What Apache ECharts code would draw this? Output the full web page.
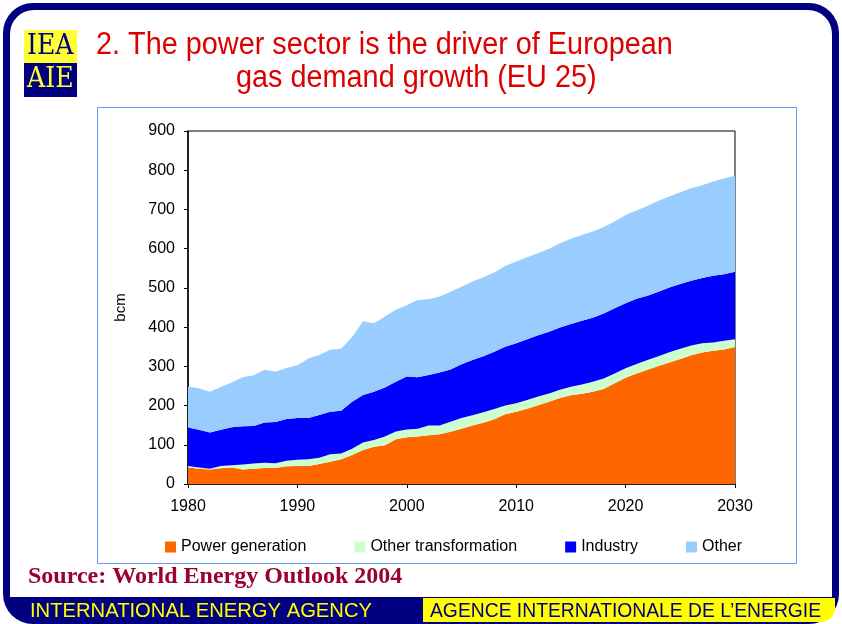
<!DOCTYPE html>
<html>
<head>
<meta charset="utf-8">
<script src="https://cdn.jsdelivr.net/npm/echarts@6/dist/echarts.min.js"></script>
<style>
  html, body { margin: 0; padding: 0; background: #fff; }
  #main { width: 842px; height: 624px; }
</style>
</head>
<body>
<div id="main"></div>
<script>
// EU 25 gas demand by sector, bcm
var years = ['1980', '1981', '1982', '1983', '1984', '1985', '1986', '1987', '1988', '1989',
  '1990', '1991', '1992', '1993', '1994', '1995', '1996', '1997', '1998', '1999',
  '2000', '2001', '2002', '2003', '2004', '2005', '2006', '2007', '2008', '2009',
  '2010', '2011', '2012', '2013', '2014', '2015', '2016', '2017', '2018', '2019',
  '2020', '2021', '2022', '2023', '2024', '2025', '2026', '2027', '2028', '2029', '2030'];
var powerGen = [42, 39, 37, 40, 42, 37, 39, 41, 41, 45,
  46, 46, 51, 57, 63, 74, 87, 95, 99, 114,
  119, 121, 124, 127, 133, 141, 149, 156, 165, 178,
  184, 192, 201, 210, 219, 226, 230, 235, 242, 257,
  271, 282, 291, 301, 310, 319, 328, 335, 340, 343, 349];
var otherTrans = [4, 3, 2, 6, 6, 13, 13, 13, 12, 14,
  16, 17, 16, 19, 15, 16, 19, 17, 22, 20,
  20, 20, 25, 22, 26, 27, 26, 27, 26, 22,
  22, 22, 22, 21, 21, 22, 24, 26, 27, 25,
  24, 24, 25, 25, 26, 26, 25, 24, 21, 22, 20];
var industry = [98, 96, 92, 92, 97, 97, 96, 103, 105, 107,
  106, 105, 109, 108, 109, 120, 121, 123, 125, 127,
  135, 131, 129, 135, 133, 137, 141, 143, 146, 150,
  153, 155, 156, 157, 159, 160, 162, 163, 166, 166,
  166, 166, 164, 164, 165, 165, 165, 166, 170, 170, 172];
var other = [104, 106, 104, 109, 114, 125, 129, 134, 128, 130,
  135, 152, 153, 158, 158, 165, 188, 175, 181, 183,
  182, 197, 193, 194, 198, 198, 200, 201, 202, 206,
  208, 209, 209, 212, 215, 217, 219, 220, 220, 221,
  225, 225, 229, 232, 232, 234, 236, 237, 240, 244, 245];
var seriesNames = ['Power generation', 'Other transformation', 'Industry', 'Other'];
var seriesColors = ['#ff6600', '#ccffcc', '#0000ff', '#99ccff'];

var navy = '#000080';
var sans = '"Liberation Sans", Arial, sans-serif';
var chart = echarts.init(document.getElementById('main'), null, { renderer: 'canvas' });

function areaSeries(name, vals, idx) {
  return {
    name: name,
    type: 'line',
    stack: 'total',
    data: vals,
    symbol: 'none',
    lineStyle: { width: 0 },
    areaStyle: { color: seriesColors[idx], opacity: 1 },
    itemStyle: { color: seriesColors[idx] },
    emphasis: { disabled: true },
    z: 1
  };
}

var option = {
  animation: false,
  backgroundColor: '#fff',
  textStyle: { fontFamily: sans },
  graphic: [
    // slide frame + footer
    { type: 'rect', z: -10, shape: { x: 3, y: 3, width: 836, height: 621, r: 30 }, style: { fill: navy } },
    { type: 'rect', z: -9, shape: { x: 10, y: 10, width: 822, height: 587, r: [24, 24, 0, 0] }, style: { fill: '#fff' } },
    { type: 'rect', z: -9, shape: { x: 423, y: 598, width: 412, height: 24, r: [0, 0, 14, 0] }, style: { fill: '#ffff00' } },
    { type: 'text', z: 5, x: 30, y: 601, scaleX: 1.01, style: { text: 'INTERNATIONAL ENERGY AGENCY', fill: '#ffff00', font: '20px ' + sans } },
    { type: 'text', z: 5, x: 430, y: 601, scaleX: 0.965, style: { text: 'AGENCE INTERNATIONALE DE L\u2019ENERGIE', fill: navy, font: '20px ' + sans } },
    // logo
    { type: 'rect', z: 1, shape: { x: 24, y: 30, width: 53, height: 33 }, style: { fill: '#ffff33' } },
    { type: 'rect', z: 1, shape: { x: 24, y: 63, width: 53, height: 34 }, style: { fill: navy } },
    { type: 'text', z: 2, x: 27, y: 33, scaleX: 0.9, style: { text: 'IEA', fill: navy, font: '28px "DejaVu Serif", serif' } },
    { type: 'text', z: 2, x: 27, y: 66, scaleX: 0.9, style: { text: 'AIE', fill: '#ffff33', font: '28px "DejaVu Serif", serif' } },
    // title
    { type: 'text', z: 2, x: 96, y: 30, scaleX: 0.93, style: { text: '2. The power sector is the driver of European', fill: '#dd0000', font: '31px ' + sans } },
    { type: 'text', z: 2, x: 236, y: 63, scaleX: 0.93, style: { text: 'gas demand growth (EU 25)', fill: '#dd0000', font: '31px ' + sans } },
    // chart box
    { type: 'rect', z: -5, shape: { x: 97.5, y: 107.5, width: 699, height: 456 }, style: { fill: '#fff', stroke: '#6699ff', lineWidth: 1 } },
    // source
    { type: 'text', z: 2, x: 28, y: 565, style: { text: 'Source: World Energy Outlook 2004', fill: '#990033', font: 'bold 24px "Liberation Serif", "Times New Roman", serif' } }
  ],
  legend: {
    data: seriesNames,
    left: 160,
    top: 534,
    icon: 'rect',
    itemWidth: 11,
    itemHeight: 11,
    itemGap: 48,
    textStyle: { fontSize: 16, color: '#000' }
  },
  grid: {
    left: 188,
    right: 107,
    top: 131,
    bottom: 140,
    show: true,
    borderColor: '#000',
    borderWidth: 1,
    backgroundColor: 'transparent'
  },
  xAxis: {
    type: 'category',
    data: years,
    boundaryGap: false,
    axisLine: { lineStyle: { color: '#000', width: 1.5 } },
    axisTick: { show: true, interval: 9, length: 4, lineStyle: { color: '#000' } },
    axisLabel: { interval: 9, color: '#000', fontSize: 16, margin: 15 },
    splitLine: { show: false }
  },
  yAxis: {
    type: 'value',
    name: 'bcm',
    nameLocation: 'middle',
    nameGap: 60,
    nameTextStyle: { color: '#000', fontSize: 15 },
    min: 0,
    max: 900,
    interval: 100,
    axisLine: { show: true, lineStyle: { color: '#000', width: 1.5 } },
    axisTick: { show: true, length: 4, lineStyle: { color: '#000' } },
    axisLabel: { color: '#000', fontSize: 16, margin: 13 },
    splitLine: { show: false }
  },
  series: [
    areaSeries(seriesNames[0], powerGen, 0),
    areaSeries(seriesNames[1], otherTrans, 1),
    areaSeries(seriesNames[2], industry, 2),
    areaSeries(seriesNames[3], other, 3)
  ]
};

chart.setOption(option);
</script>
</body>
</html>
